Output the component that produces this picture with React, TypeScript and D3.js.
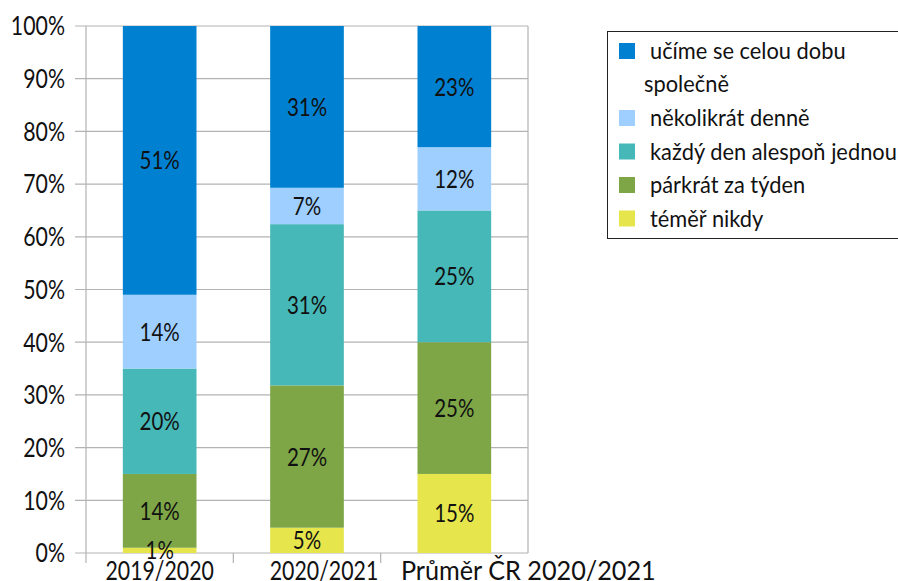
import React from "react";
import * as d3 from "d3";

const categories = ["2019/2020", "2020/2021", "Průměr ČR 2020/2021"];
const seriesNames = [
  "téměř nikdy",
  "párkrát za týden",
  "každý den alespoň jednou",
  "několikrát denně",
  "učíme se celou dobu společně",
];
const seriesColors = ["#e6e64c", "#7ea646", "#47b8b8", "#9fcfff", "#0080d0"];
// percent values per series, one entry per category
const temerNikdy = [1, 4.8, 15];
const parkrat = [14, 27, 25];
const kazdyDen = [20, 30.6, 25];
const nekolikrat = [14, 6.9, 12];
const celouDobu = [51, 30.7, 23];
const yTicks = [0, 10, 20, 30, 40, 50, 60, 70, 80, 90, 100];

const W = 898;
const H = 581;
const margin = { top: 26, left: 86, right: 370, bottom: 28 };
const FONT = "Lato, 'DejaVu Sans Condensed', sans-serif";
const GRID = "#b3b3b3";
const SX = 0.82; // narrow glyphs like the original

// category labels are nudged sideways like in the original rendering
const labelShift = [0, 17, 74];
const labelScale = [SX, SX, 0.97];

// text squeezed horizontally around its anchor point
const T = ({ x, y, anchor = "start", size, sx = SX, children }: any) => (
  <text
    transform={`translate(${x},${y}) scale(${sx},1)`}
    dy="0.36em"
    textAnchor={anchor}
    fontSize={size}
    fill="#111"
  >
    {children}
  </text>
);

export default function App() {
  const innerW = W - margin.left - margin.right;
  const innerH = H - margin.top - margin.bottom;
  const x0 = margin.left;
  const x1 = margin.left + innerW;
  const yBase = margin.top + innerH;

  const rows = categories.map((c, i) => {
    const row: any = { cat: c };
    const vals = [temerNikdy[i], parkrat[i], kazdyDen[i], nekolikrat[i], celouDobu[i]];
    const total = d3.sum(vals);
    seriesNames.forEach((s, k) => (row[s] = (vals[k] / total) * 100));
    row.raw = vals;
    return row;
  });

  const stack = d3.stack<any>().keys(seriesNames)(rows);

  const x = d3.scaleBand().domain(categories).range([x0, x1]).paddingInner(0);
  const y = d3.scaleLinear().domain([0, 100]).range([yBase, margin.top]);
  const barW = x.bandwidth() / 2;

  const legendItems = [...seriesNames].reverse();
  const legendColors = [...seriesColors].reverse();

  return (
    <svg
      width={W}
      height={H}
      style={{ position: "absolute", left: 0, top: 0, background: "#fff" }}
      fontFamily={FONT}
    >
      {/* grid */}
      {yTicks.map((t) => (
        <line key={"g" + t} x1={x0 - 11} x2={x1} y1={y(t)} y2={y(t)} stroke={GRID} strokeWidth={1.2} />
      ))}
      <line x1={x0} x2={x0} y1={margin.top} y2={yBase + 10} stroke={GRID} strokeWidth={1.2} />
      <line x1={x1} x2={x1} y1={margin.top} y2={yBase} stroke={GRID} strokeWidth={1.2} />
      {categories.slice(1).map((c) => (
        <line key={"t" + c} x1={x(c)!} x2={x(c)!} y1={yBase} y2={yBase + 10} stroke={GRID} strokeWidth={1.2} />
      ))}

      {/* bars */}
      {stack.map((layer, k) => (
        <g key={layer.key} fill={seriesColors[k]}>
          {layer.map((d, i) => (
            <rect
              key={i}
              x={x(categories[i])! + (x.bandwidth() - barW) / 2}
              width={barW}
              y={y(d[1])}
              height={y(d[0]) - y(d[1])}
            />
          ))}
        </g>
      ))}

      {/* y labels */}
      {yTicks.map((t) => (
        <T key={"y" + t} x={x0 - 21} y={y(t)} anchor="end" size={26}>
          {t}%
        </T>
      ))}

      {/* value labels */}
      {stack.map((layer, k) =>
        layer.map((d, i) => (
          <T
            key={layer.key + i}
            x={x(categories[i])! + x.bandwidth() / 2}
            y={y((d[0] + d[1]) / 2)}
            anchor="middle"
            size={25}
          >
            {Math.round(rows[i].raw[k])}%
          </T>
        ))
      )}

      {/* category labels */}
      {categories.map((c, i) => (
        <T
          key={"c" + c}
          x={x(c)! + x.bandwidth() / 2 + labelShift[i]}
          y={yBase + 18}
          anchor="middle"
          size={26}
          sx={labelScale[i]}
        >
          {c}
        </T>
      ))}

      {/* legend */}
      <g transform="translate(607,31)">
        <rect x={0.5} y={0.5} width={320} height={207} fill="#fff" stroke="#222" strokeWidth={1} />
        {legendItems.map((s, i) => {
          const yy = i === 0 ? 20 : 87 + (i - 1) * 33.5;
          const lines = i === 0 ? ["učíme se celou dobu", "společně"] : [s];
          return (
            <g key={s}>
              <rect x={12} y={yy - 8} width={16} height={16} fill={legendColors[i]} />
              {lines.map((ln, j) => (
                <T key={ln} x={j === 0 ? 43 : 37} y={yy + j * 33} size={23} sx={0.95}>
                  {ln}
                </T>
              ))}
            </g>
          );
        })}
      </g>
    </svg>
  );
}
